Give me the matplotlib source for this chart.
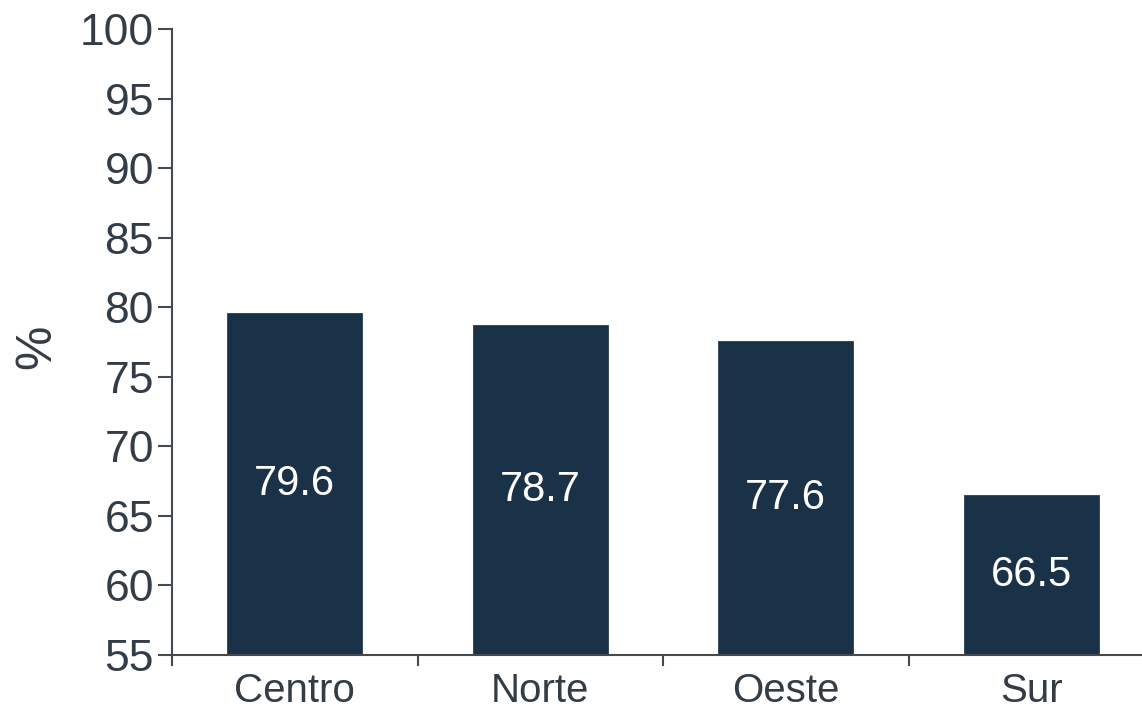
import matplotlib
matplotlib.use("Agg")
import matplotlib.pyplot as plt
import numpy as np

regions = ["Centro", "Norte", "Oeste", "Sur"]
values = [79.6, 78.7, 77.6, 66.5]
yticks = [55, 60, 65, 70, 75, 80, 85, 90, 95, 100]

plt.rcParams["font.family"] = ["Liberation Sans", "DejaVu Sans"]
text_col = "#333d47"
bar_col = "#1a3247"
axis_col = "#444a50"

fig = plt.figure(figsize=(11.42, 7.13), dpi=100)
ax = fig.add_axes([172 / 1142, 1 - 655 / 713, (1154 - 172) / 1142, (655 - 29) / 713])

x = np.arange(len(regions))
ymin = 55
ax.bar(x, np.array(values) - ymin, bottom=ymin, width=0.55, color=bar_col,
       edgecolor="#2a3d50", linewidth=0.6)
for xi, v in zip(x, values):
    ax.text(xi, (v + ymin) / 2, f"{v:.1f}", ha="center", va="center",
            color="white", fontsize=30)

ax.set_xlim(-0.5, len(regions) - 0.5)
ax.set_ylim(55, 100)
ax.set_yticks(yticks)
ax.set_yticklabels([str(t) for t in yticks], fontsize=32, color=text_col)

# boundary ticks without labels, category labels on minor ticks
ax.set_xticks(np.arange(len(regions)) - 0.5)
ax.set_xticklabels([])
ax.set_xticks(x, minor=True)
ax.set_xticklabels(regions, minor=True, fontsize=29, color=text_col)
ax.tick_params(axis="x", which="major", length=8, width=1.5, color=axis_col)
ax.tick_params(axis="x", which="minor", length=0, pad=12)
ax.tick_params(axis="y", length=10, width=1.5, color=axis_col, pad=3)

fig.text(37 / 1142, 1 - 347 / 713, "%", rotation=90, ha="center", va="center",
         fontsize=36, color=text_col)

for s in ["top", "right"]:
    ax.spines[s].set_visible(False)
for s in ["left", "bottom"]:
    ax.spines[s].set_color(axis_col)
    ax.spines[s].set_linewidth(1.5)

fig.savefig("out.png", dpi=100)
